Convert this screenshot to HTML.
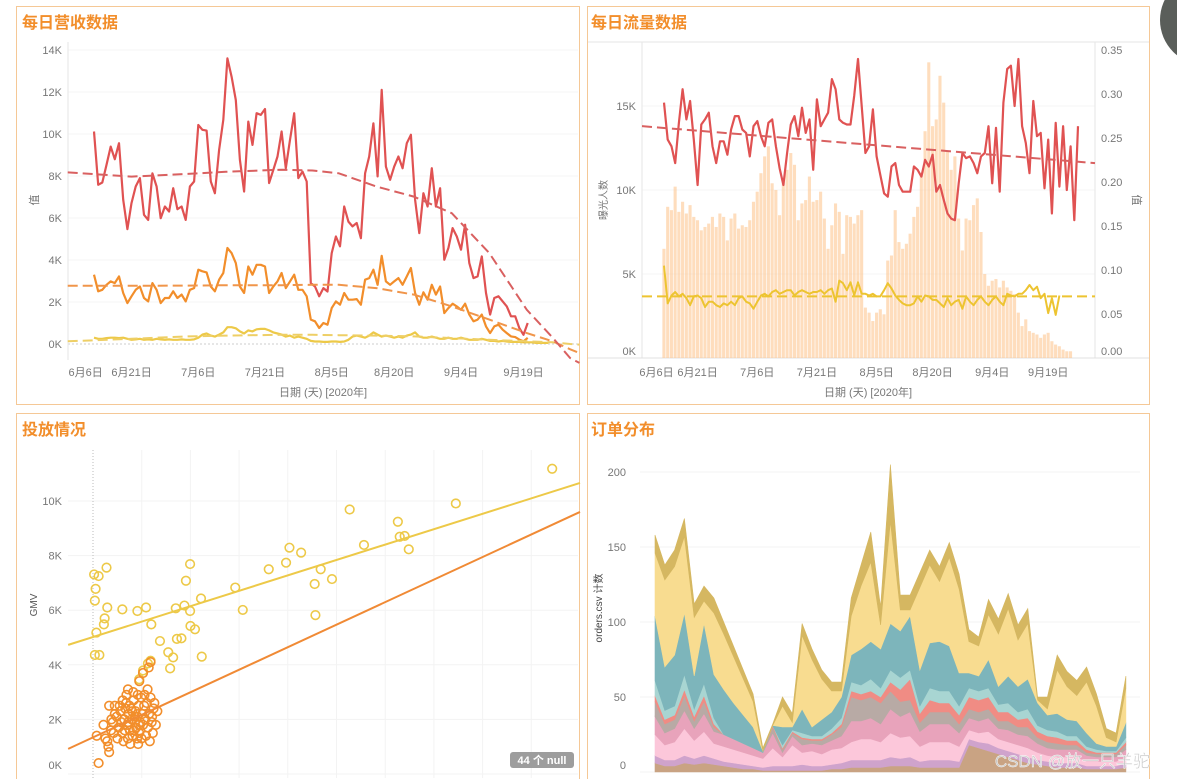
<!DOCTYPE html>
<html><head><meta charset="utf-8">
<style>
html,body{margin:0;padding:0;background:#fff;}
svg{display:block;font-family:"Liberation Sans","Noto Sans CJK SC",sans-serif;}
.tick{font-size:11px;fill:#777;}
.title{font-size:16px;font-weight:bold;fill:#f28e2b;}
</style></head>
<body>
<svg id="dash" width="1177" height="779" viewBox="0 0 1177 779">
<circle cx="1205" cy="20" r="45" fill="#5a5e5a"/>
<rect x="16.5" y="6.5" width="563" height="398" fill="#fff" stroke="#f5c896"/>
<rect x="587.5" y="6.5" width="562" height="398" fill="#fff" stroke="#f5c896"/>
<rect x="16.5" y="413.5" width="563" height="370" fill="#fff" stroke="#f5c896"/>
<rect x="587.5" y="413.5" width="562" height="370" fill="#fff" stroke="#f5c896"/>
<line x1="588" y1="42" x2="1149" y2="42" stroke="#e4e4e4"/>
<text class="title" x="22" y="28">每日营收数据</text>
<text class="title" x="591" y="28">每日流量数据</text>
<text class="title" x="22" y="435">投放情况</text>
<text class="title" x="591" y="435">订单分布</text>
<g id="g1"></g><g id="g2"></g><g id="g3"></g><g id="g4"></g>
<rect x="510" y="752" width="64" height="16" rx="3" fill="#9d9d9d"/>
<text x="542" y="764" text-anchor="middle" font-size="11" font-weight="bold" fill="#fff">44 个 null</text>
<text x="1150" y="767" text-anchor="end" font-size="17" fill="#c8c8c8" stroke="#fff" stroke-width="0.4">CSDN @放一只羊驼</text>
</svg>
<script>
// ---------- Panel 1 data (values in K) ----------
const p1Ticks = ["0K","2K","4K","6K","8K","10K","12K","14K"];
const p1TickVals = [0,2,4,6,8,10,12,14];
const dateLabels = ["6月6日","6月21日","7月6日","7月21日","8月5日","8月20日","9月4日","9月19日"];
const dateLabelDays = [-2,9,25,41,57,72,88,103];
const revRed = [10.12,7.58,7.69,8.53,9.40,8.80,9.56,6.87,5.47,6.71,7.50,7.90,6.15,5.91,8.13,7.50,5.99,6.55,6.31,7.42,6.42,6.55,5.91,7.50,7.74,10.43,10.2,10.16,7.74,7.18,9.24,10.67,13.6,12.73,11.62,8.77,7.26,10.59,9.48,10.99,10.91,11.19,7.66,8.29,8.93,10.12,8.37,9.72,10.99,7.9,8.21,7.74,2.9,2.74,2.27,2.66,2.5,4.33,5.12,4.65,6.55,5.83,5.6,5.76,5.04,8.13,8.93,10.51,7.98,12.1,8.45,7.82,8.45,8.93,8.37,9.56,9.96,6.87,5.28,7.18,6.55,8.37,6.55,7.42,4.01,4.57,5.52,5.12,4.49,5.68,3.85,3.14,3.22,4.17,2.43,1.40,2.19,2.27,2.03,1.79,1.32,1.32,0.76,0.44,1.0];
const revOrange = [3.30,2.51,2.58,2.82,2.98,2.90,3.22,2.43,1.95,2.27,2.58,2.74,2.19,2.03,2.90,2.58,1.95,2.19,2.19,2.51,2.19,2.35,2.03,2.58,2.66,3.54,3.46,3.41,2.74,2.51,3.06,3.38,4.57,4.33,3.85,2.74,2.43,3.69,3.30,3.77,3.77,3.69,2.43,2.74,2.98,3.38,2.66,2.98,3.30,2.58,2.58,2.27,1.16,1.08,0.76,1.0,0.92,1.71,2.03,1.87,2.43,2.11,2.11,2.14,1.87,3.06,3.14,3.54,2.82,4.20,2.98,2.82,2.98,3.14,2.82,3.22,3.62,2.43,1.87,2.46,2.11,2.82,2.35,2.74,1.47,1.71,1.92,1.79,1.63,1.92,1.40,1.08,1.16,1.40,0.84,0.52,0.84,0.92,0.68,0.52,0.36,0.33,0.21,0.13,0.29];
const revYellow = [0.3,0.25,0.25,0.28,0.3,0.3,0.28,0.3,0.25,0.2,0.22,0.25,0.2,0.22,0.2,0.25,0.22,0.2,0.22,0.2,0.2,0.22,0.2,0.2,0.22,0.3,0.45,0.5,0.4,0.35,0.45,0.55,0.8,0.8,0.75,0.6,0.5,0.65,0.6,0.7,0.72,0.72,0.65,0.55,0.5,0.45,0.35,0.4,0.3,0.35,0.3,0.25,0.15,0.12,0.12,0.1,0.1,0.12,0.12,0.1,0.12,0.2,0.35,0.4,0.35,0.3,0.4,0.55,0.45,0.35,0.4,0.35,0.3,0.35,0.3,0.4,0.45,0.55,0.35,0.3,0.3,0.35,0.3,0.25,0.25,0.3,0.25,0.25,0.3,0.25,0.2,0.2,0.2,0.25,0.2,0.15,0.15,0.12,0.15,0.12,0.1,0.1,0.1,0.08,0.08,0.08,0.05,0.05,0.05,0.05];
const trendDays = [-6.3,9,22.5,31.6,45.1,52.4,58.7,67.7,76.7,85.8,94.8,103.8,110,114.2,116.4];
const trendRed = [8.17,7.97,8.1,8.2,8.3,8.26,8.13,7.5,7.02,6.23,4.33,1.63,0.3,-0.67,-0.9];
const trendOrange = [2.77,2.77,2.78,2.8,2.8,2.82,2.82,2.66,2.35,1.79,1.16,0.52,0.13,-0.25,-0.43];
const trendYellow = [0.13,0.25,0.36,0.4,0.44,0.44,0.42,0.4,0.36,0.28,0.2,0.13,0.08,0.0,-0.03];

// ---------- Panel 2 data ----------
const p2LeftTicks = ["0K","5K","10K","15K"];
const p2LeftVals = [0,5,10,15];
const p2RightTicks = ["0.00","0.05","0.10","0.15","0.20","0.25","0.30","0.35"];
const p2RightVals = [0,0.05,0.10,0.15,0.20,0.25,0.30,0.35];
const exposureBars = [6.5,9,8.8,10.2,8.7,9.3,8.6,9.1,8.4,8.2,7.6,7.8,8.0,8.4,7.8,8.6,8.4,7.0,8.3,8.6,7.7,7.9,7.8,8.2,9.3,9.9,11.0,12.0,12.6,10.4,10.0,8.5,10.6,11.2,12.2,11.5,8.2,9.2,9.4,10.8,9.3,9.4,9.9,8.3,6.5,7.9,9.2,8.7,6.2,8.5,8.4,8.0,8.5,8.8,3.0,2.7,2.2,2.7,2.9,2.6,5.8,6.1,8.8,6.9,6.5,6.8,7.4,8.4,9.0,11.0,13.5,17.6,13.8,14.2,16.8,15.2,12.3,11.2,12.0,8.3,6.4,8.3,8.2,9.1,9.5,7.5,5.0,4.3,4.6,4.7,4.2,4.6,4.2,4.0,3.8,2.7,1.9,2.3,1.6,1.5,1.4,1.2,1.4,1.5,1.0,0.8,0.7,0.5,0.4,0.4];
const trafficRed = [15.2,13.0,12.6,11.6,14.0,16.0,14.2,15.3,13.0,10.3,13.9,14.2,14.6,12.6,11.6,12.9,12.9,12.1,13.6,14.4,14.4,13.6,13.4,12.0,13.8,14.1,13.2,12.6,14.0,14.2,12.6,11.3,10.3,12.2,13.9,14.4,13.2,14.9,13.4,14.2,11.2,15.4,13.8,14.2,14.6,16.6,16.0,14.2,14.0,13.9,13.9,15.6,17.8,15.0,12.2,12.6,14.8,12.0,10.9,9.8,9.6,11.4,11.6,10.3,9.9,9.9,9.9,11.4,11.2,10.8,11.8,11.4,12.1,9.9,10.3,9.4,8.6,8.3,8.2,10.4,12.2,11.9,12.0,11.6,11.0,12.0,12.2,13.8,10.4,13.7,9.9,15.2,17.2,17.4,15.0,17.8,13.8,12.8,11.0,15.3,13.2,13.4,10.1,13.0,8.6,14.0,10.2,13.8,10.0,12.6,8.2,13.8];
const trafficYellow = [.105,.062,.071,.075,.070,.073,.068,.060,.070,.071,.068,.058,.064,.064,.060,.058,.062,.060,.064,.060,.068,.070,.064,.062,.056,.064,.071,.073,.070,.075,.077,.073,.075,.077,.077,.071,.075,.077,.075,.073,.075,.075,.077,.073,.077,.079,.064,.088,.085,.077,.086,.071,.086,.073,.073,.071,.073,.070,.070,.077,.085,.079,.071,.066,.062,.060,.060,.062,.070,.064,.071,.070,.066,.066,.062,.058,.068,.060,.064,.066,.056,.070,.064,.060,.066,.070,.064,.060,.066,.070,.064,.060,.073,.071,.070,.073,.073,.077,.083,.077,.081,.068,.073,.051,.068,.049,.071];
const trafficRedTrend = [13.8,11.6];
const trafficYellowTrend = [0.070,0.070];

// ---------- Panel 3 data (x: cost units, y: GMV K) ----------
const p3Ticks = ["0K","2K","4K","6K","8K","10K"];
const p3TickVals = [0,2,4,6,8,10];
const highX = [25,26.2,28.3,25.4,25.2,28.5,27.8,27.6,25.6,25.2,26.4,32.5,36.5,38.8,40.2,42.5,44.7,46,45.2,46.7,47,48.2,49,49.4,50.5,50.5,50.6,51.8,53.4,53.6,62.5,64.5,71.4,76,76.9,80,83.6,83.8,85.2,88.2,92.9,96.7,105.7,106.2,107.5,108.6,121.1,146.7,40,39.3,38,37];
const highY = [7.31,7.25,7.56,6.78,6.35,6.10,5.70,5.48,5.18,4.36,4.36,6.03,5.97,6.10,5.48,4.87,4.46,4.27,3.87,6.07,4.95,4.97,6.17,7.08,7.69,5.97,5.42,5.30,6.43,4.30,6.83,6.01,7.50,7.74,8.29,8.11,6.96,5.82,7.50,7.14,9.69,8.39,9.24,8.69,8.72,8.23,9.91,11.18,4.15,4.05,3.79,3.47];
const lowX = [29,30.5,34,37,38,39.5,40,26.2,29,28.8,25.7,36.7,40.6,41.8,28,29.5,30,31,31.5,32,32.5,33,33.5,33.8,34,34.2,34.5,34.8,35,35.2,35.5,35.8,36,36.2,36.5,36.8,37,37.2,37.5,37.8,38,38.3,38.6,39,39.3,39.6,40,40.3,40.8,41,30.5,31.2,32.2,32.8,33.3,34.6,35.6,36.4,37.6,38.8,39.8,33.6,35.4,36.6,38.4,34.1,35.1,35.9,36.9,34.4,33.1,32.6,31.8,30.2,29.6,27.5,28.5,39.2,40.4,41.4];
const lowY = [2.5,2.5,3.1,3.4,3.7,3.9,4.1,0.4,0.8,1.0,1.4,1.1,1.5,2.3,1.3,1.6,1.9,2.1,1.7,2.3,1.5,2.0,2.6,1.8,1.3,2.2,1.6,2.4,2.0,1.4,2.7,1.9,2.3,1.7,2.1,2.5,1.5,1.9,2.8,2.2,1.8,2.5,2.0,2.6,1.7,2.2,2.8,1.9,2.4,2.6,2.2,1.3,1.9,1.2,2.4,1.1,1.6,1.3,1.3,1.4,1.2,2.9,3.0,2.9,2.9,1.9,2.3,2.1,1.8,2.5,1.6,2.7,2.5,1.5,2.0,1.8,1.2,3.1,2.1,1.8];
const highFit = [-0.51,4.73,10.0,10.66];
const lowFit = [-0.51,0.92,10.0,9.6];

// ---------- Panel 4 data (stacked order counts) ----------
const p4Ticks = ["0","50","100","150","200"];
const p4TickVals = [0,50,100,150,200];
const brown  = [6,4,4,6,5,6,5,4,3,2,2,1,1,1,1,1,1,1,2,2,3,3,3,3,4,4,4,3,3,3,3,3,18,16,14,12,10,8,6,5,4,3,3,3,2,2,2,2,3];
const purple = [5,4,4,5,4,5,4,3,3,3,2,2,3,3,3,4,3,3,3,4,5,5,5,5,6,5,6,4,5,5,5,4,4,4,5,4,4,4,4,3,3,3,3,3,2,2,2,2,3];
const pinkLight = [14,10,12,18,12,16,10,10,9,8,7,6,12,6,14,8,10,8,10,10,12,14,14,12,16,14,14,10,12,12,12,10,6,6,8,6,6,6,6,5,4,4,4,4,3,3,3,3,4];
const pink   = [12,8,9,12,8,12,8,8,7,6,5,4,10,3,6,5,5,6,6,8,14,12,14,12,16,14,16,10,12,12,12,9,8,8,9,7,8,7,8,6,5,5,5,5,4,3,3,3,5];
const gray   = [10,6,6,10,5,8,3,0,0,0,0,0,4,2,2,4,2,3,4,6,16,14,14,14,12,10,8,6,8,8,8,6,6,6,6,5,6,5,6,4,4,4,3,3,2,2,2,2,3];
const salmon = [4,3,3,4,3,4,2,0,0,0,0,0,1,1,1,1,1,1,1,2,4,4,4,4,6,8,14,6,8,6,6,6,8,8,8,6,6,5,6,4,4,4,3,3,2,1,1,1,2];
const tealLight = [10,6,6,10,5,8,4,0,0,0,0,0,0,2,1,3,2,2,3,4,6,6,8,6,8,8,6,5,8,8,8,6,6,6,6,5,6,5,6,4,4,4,3,3,2,2,1,1,3];
const teal   = [43,29,34,41,22,40,29,30,24,19,14,1,0,12,2,16,6,11,11,14,18,24,25,26,31,31,36,24,30,33,30,22,10,10,19,12,18,17,20,15,10,12,11,10,9,4,3,3,10];
const yellow = [42,58,59,51,39,15,41,37,31,24,17,0,0,14,3,49,45,27,14,4,26,42,53,16,68,14,4,55,52,40,59,56,21,20,30,35,45,31,37,2,4,29,22,17,34,25,6,3,23];
const olive  = [12,10,11,12,9,10,10,8,7,6,5,2,1,6,6,8,7,6,6,6,12,14,20,12,38,10,10,10,10,10,10,10,8,6,10,10,10,10,10,2,8,10,10,10,10,8,6,6,8];

const NS = "http://www.w3.org/2000/svg";
function mk(parent, tag, attrs){ const e=document.createElementNS(NS,tag); for(const k in attrs) e.setAttribute(k,attrs[k]); document.getElementById(parent).appendChild(e); return e; }
function pathOf(xs, ys){ return xs.map((x,i)=>(i?"L":"M")+x.toFixed(1)+","+ys[i].toFixed(1)).join(""); }

// ===== Panel 1 =====
const x1 = d => 94 + d*4.17;
const y1 = v => 344 - v*21;
p1TickVals.forEach((v,i)=>{
  const gl = mk("g1","line",{x1:68,x2:578,y1:y1(v),y2:y1(v),stroke: v===0?"#ccc":"#f4f4f4","stroke-dasharray": v===0?"2,2":"none"});
  
  
  const t = mk("g1","text",{x:62,y:y1(v)+4,"text-anchor":"end",class:"tick"}); t.textContent=p1Ticks[i];
  
  
});
dateLabels.forEach((s,i)=>{
  const t = mk("g1","text",{x:x1(dateLabelDays[i]),y:376,"text-anchor":"middle",class:"tick"}); t.textContent=s;
  
  
});
{
  const ax = mk("g1","line",{x1:68,x2:68,y1:42,y2:360,stroke:"#e6e6e6"});
  
  
  const t = mk("g1","text",{x:323,y:396,"text-anchor":"middle",class:"tick"}); t.textContent="日期 (天) [2020年]";
  
  
  const ty = mk("g1","text",{x:34,y:204,"text-anchor":"middle",class:"tick",transform:"rotate(-90 34 200)"}); ty.textContent="值";
  
  
}
[[revYellow,"#edc948","revenue-line-yellow"],[revOrange,"#f28e2b","revenue-line-orange"],[revRed,"#e05252","revenue-line-red"]].forEach(([arr,c,n])=>{
  const p = mk("g1","path",{d:pathOf(arr.map((v,i)=>x1(i)),arr.map(y1)),fill:"none",stroke:c,"stroke-width":2.2,"stroke-linejoin":"round"});
  
  
});
[[trendYellow,"#eecf66","revenue-trend-yellow"],[trendOrange,"#f0954a","revenue-trend-orange"],[trendRed,"#d96060","revenue-trend-red"]].forEach(([arr,c,n])=>{
  const p = mk("g1","path",{d:pathOf(trendDays.map(x1),arr.map(y1)),fill:"none",stroke:c,"stroke-width":2,"stroke-dasharray":"10,5"});
  
  
});

// ===== Panel 2 =====
const x2 = i => 664 + i*3.73;
const y2L = v => 358 - v*16.8;
const y2R = v => 358 - v*880;
p2LeftVals.forEach((v,i)=>{
  const gl = mk("g2","line",{x1:642,x2:1095,y1:y2L(v),y2:y2L(v),stroke:"#f4f4f4"});
  
  
  const t = mk("g2","text",{x:636,y:Math.min(y2L(v)+4,355),"text-anchor":"end",class:"tick"}); t.textContent=p2LeftTicks[i];
  
  
});
p2RightVals.forEach((v,i)=>{
  const t = mk("g2","text",{x:1101,y:Math.min(y2R(v)+4,355),class:"tick"}); t.textContent=p2RightTicks[i];
  
  
});
{
  const a1 = mk("g2","line",{x1:642,x2:642,y1:42,y2:358,stroke:"#e6e6e6"});
  
  
  const a2 = mk("g2","line",{x1:1095,x2:1095,y1:42,y2:358,stroke:"#e6e6e6"});
  
  
  const a3 = mk("g2","line",{x1:588,x2:1149,y1:358,y2:358,stroke:"#e0e0e0"});
  
  
}
exposureBars.forEach((v,i)=>{
  const b = mk("g2","rect",{x:x2(i)-1.6,y:y2L(v),width:3.1,height:358-y2L(v),fill:"#fdc895","fill-opacity":0.62});
  
  
});
dateLabels.forEach((s,i)=>{
  const t = mk("g2","text",{x:x2(dateLabelDays[i]),y:376,"text-anchor":"middle",class:"tick"}); t.textContent=s;
  
  
});
{
  const t = mk("g2","text",{x:868,y:396,"text-anchor":"middle",class:"tick"}); t.textContent="日期 (天) [2020年]";
  
  
  const tl = mk("g2","text",{x:603,y:204,"text-anchor":"middle","font-size":"10",fill:"#777",transform:"rotate(-90 603 200)"}); tl.textContent="曝光人数";
  
  
  const tr = mk("g2","text",{x:1137,y:204,"text-anchor":"middle",class:"tick",transform:"rotate(90 1137 200)"}); tr.textContent="值";
  
  
}
{
  const p = mk("g2","path",{d:pathOf(trafficRed.map((v,i)=>x2(i)),trafficRed.map(y2L)),fill:"none",stroke:"#e05252","stroke-width":2.2,"stroke-linejoin":"round"});
  
  
  const q = mk("g2","path",{d:pathOf(trafficYellow.map((v,i)=>x2(i)),trafficYellow.map(y2R)),fill:"none",stroke:"#edc431","stroke-width":2,"stroke-linejoin":"round"});
  
  
  const tr = mk("g2","line",{x1:642,x2:1095,y1:y2L(trafficRedTrend[0]),y2:y2L(trafficRedTrend[1]),stroke:"#d96060","stroke-width":2,"stroke-dasharray":"10,5"});
  
  
  const ty = mk("g2","line",{x1:642,x2:1095,y1:y2R(trafficYellowTrend[0]),y2:y2R(trafficYellowTrend[1]),stroke:"#edc431","stroke-width":2,"stroke-dasharray":"10,5"});
  
  
}

// ===== Panel 3 =====
const x3 = v => v*3.764;
const y3 = v => 774 - v*27.3;
const x3fit = u => 93 + u*48.7;
p3TickVals.forEach((v,i)=>{
  const gl = mk("g3","line",{x1:68,x2:578,y1:y3(v),y2:y3(v),stroke:"#f3f3f3"});
  
  
  const t = mk("g3","text",{x:62,y:Math.min(y3(v)+4,769),"text-anchor":"end",class:"tick"}); t.textContent=p3Ticks[i];
  
  
});
for(let k=1;k<10;k++){
  const gl = mk("g3","line",{x1:x3fit(k),x2:x3fit(k),y1:450,y2:778,stroke:"#f3f3f3"});
  
  
}
{
  const z = mk("g3","line",{x1:93,x2:93,y1:450,y2:778,stroke:"#bbb","stroke-dasharray":"1,2"});
  
  
  const t = mk("g3","text",{x:34,y:608,"text-anchor":"middle","font-size":"10",fill:"#555",transform:"rotate(-90 34 605)"}); t.textContent="GMV";
  
  
}
highX.forEach((v,i)=>{
  const c = mk("g3","circle",{cx:x3(v),cy:y3(highY[i]),r:4.3,fill:"none",stroke:"#edc948","stroke-width":1.6});
  
  
});
lowX.forEach((v,i)=>{
  const c = mk("g3","circle",{cx:x3(v),cy:y3(lowY[i]),r:4.3,fill:"none",stroke:"#f28e2b","stroke-width":1.6});
  
  
});
{
  const a = mk("g3","line",{x1:x3fit(highFit[0]),y1:y3(highFit[1]),x2:x3fit(highFit[2]),y2:y3(highFit[3]),stroke:"#edc948","stroke-width":2});
  
  
  const b = mk("g3","line",{x1:x3fit(lowFit[0]),y1:y3(lowFit[1]),x2:x3fit(lowFit[2]),y2:y3(lowFit[3]),stroke:"#f08a35","stroke-width":2});
  
  
}

// ===== Panel 4 =====
const x4 = i => 655 + i*9.81;
const y4 = v => 772 - v*1.5;
p4TickVals.forEach((v,i)=>{
  const gl = mk("g4","line",{x1:640,x2:1140,y1:y4(v),y2:y4(v),stroke:"#f3f3f3"});
  
  
  const t = mk("g4","text",{x:626,y:Math.min(y4(v)+4,769),"text-anchor":"end",class:"tick"}); t.textContent=p4Ticks[i];
  
  
});
{
  const t = mk("g4","text",{x:598,y:612,"text-anchor":"middle","font-size":"10",fill:"#444",transform:"rotate(-90 598 608)"}); t.textContent="orders.csv 计数";
  
  
}
const layers = [[brown,"#c9a383","brown"],[purple,"#cfa3cc","purple"],[pinkLight,"#fcc7da","pink-light"],[pink,"#e8a3bb","pink"],[gray,"#b8aaa5","gray"],[salmon,"#f08c84","salmon"],[tealLight,"#a8d5d2","teal-light"],[teal,"#7db5bb","teal"],[yellow,"#f8dc90","yellow"],[olive,"#d5b761","olive"]];
const base = brown.map(()=>0);
layers.forEach(([arr,c,n])=>{
  const lo = base.slice();
  arr.forEach((v,i)=>{ base[i]+=v; });
  const xs = arr.map((v,i)=>x4(i));
  let d = pathOf(xs, base.map(y4));
  for(let i=xs.length-1;i>=0;i--) d += "L"+xs[i].toFixed(1)+","+y4(lo[i]).toFixed(1);
  const p = mk("g4","path",{d:d+"Z",fill:c,stroke:c,"stroke-width":0.6});
  
  
});
</script>
</body></html>
